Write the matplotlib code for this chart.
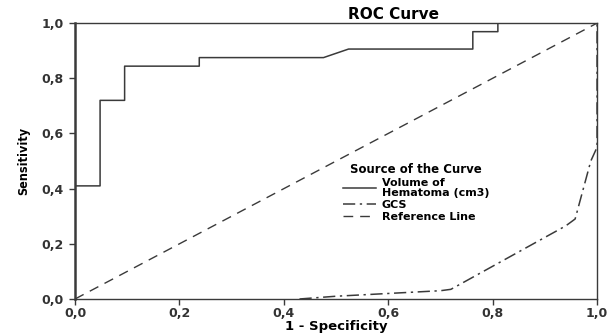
import numpy as np
import matplotlib.pyplot as plt
from matplotlib.ticker import FuncFormatter

# ROC points
vol_x = [0.0, 0.0, 0.048, 0.048, 0.095, 0.095, 0.238, 0.238, 0.476, 0.524, 0.762, 0.762, 0.81, 0.81, 1.0]
vol_y = [0.0, 0.41, 0.41, 0.72, 0.72, 0.844, 0.844, 0.875, 0.875, 0.906, 0.906, 0.969, 0.969, 1.0, 1.0]

gcs_x = [0.43, 0.50, 0.70, 0.72, 0.94, 0.958, 0.988, 1.0, 1.0]
gcs_y = [0.0, 0.01, 0.03, 0.035, 0.265, 0.29, 0.50, 0.55, 1.0]

ref_x = [0.0, 1.0]
ref_y = [0.0, 1.0]

ticks = [0.0, 0.2, 0.4, 0.6, 0.8, 1.0]

plt.rcParams['font.family'] = ['DejaVu Sans']
col = '#3a3a3a'

fig = plt.figure(figsize=(6.08, 3.35), dpi=100)
ax = fig.add_axes([0.1234, 0.1075, 0.8586, 0.8235])

ax.plot(vol_x, vol_y, color=col, lw=1.1, label='Volume of\nHematoma (cm3)')
ax.plot(gcs_x, gcs_y, color=col, lw=1.1, dashes=(8, 3, 1.5, 3), label='GCS')
ax.plot(ref_x, ref_y, color=col, lw=1.0, dashes=(7, 5), label='Reference Line')

ax.set_xlim(0, 1)
ax.set_ylim(0, 1)
ax.set_xticks(ticks)
ax.set_yticks(ticks)
fmt = FuncFormatter(lambda v, p: ('%.1f' % v).replace('.', ','))
ax.xaxis.set_major_formatter(fmt)
ax.yaxis.set_major_formatter(fmt)
ax.tick_params(direction='out', length=4, width=1, color=col, labelsize=9)
ax.tick_params(axis='y', pad=4)
ax.tick_params(axis='x', pad=1.5)
for lab in ax.get_xticklabels() + ax.get_yticklabels():
    lab.set_fontweight('bold')
    lab.set_color('#333333')
for s in ax.spines.values():
    s.set_color(col)
    s.set_linewidth(1.0)
ax.spines['left'].set_linewidth(1.8)

ax.set_xlabel('1 - Specificity', fontsize=9.5, fontweight='bold', labelpad=0)
ax.set_ylabel('Sensitivity', fontsize=9, fontweight='bold', labelpad=8,
              fontstretch='condensed')
fig.text(0.648, 0.958, 'ROC Curve', fontsize=11, fontweight='bold', ha='center', va='center')

leg = ax.legend(title='Source of the Curve', loc='upper left', bbox_to_anchor=(0.505, 0.51),
                frameon=False, fontsize=8, title_fontsize=8.5, handlelength=3.0,
                handletextpad=0.5, labelspacing=0.2, borderaxespad=0)
leg.get_title().set_fontweight('bold')
for t in leg.get_texts():
    t.set_fontweight('bold')
    t.set_linespacing(0.95)

fig.savefig('out.png', dpi=100)
